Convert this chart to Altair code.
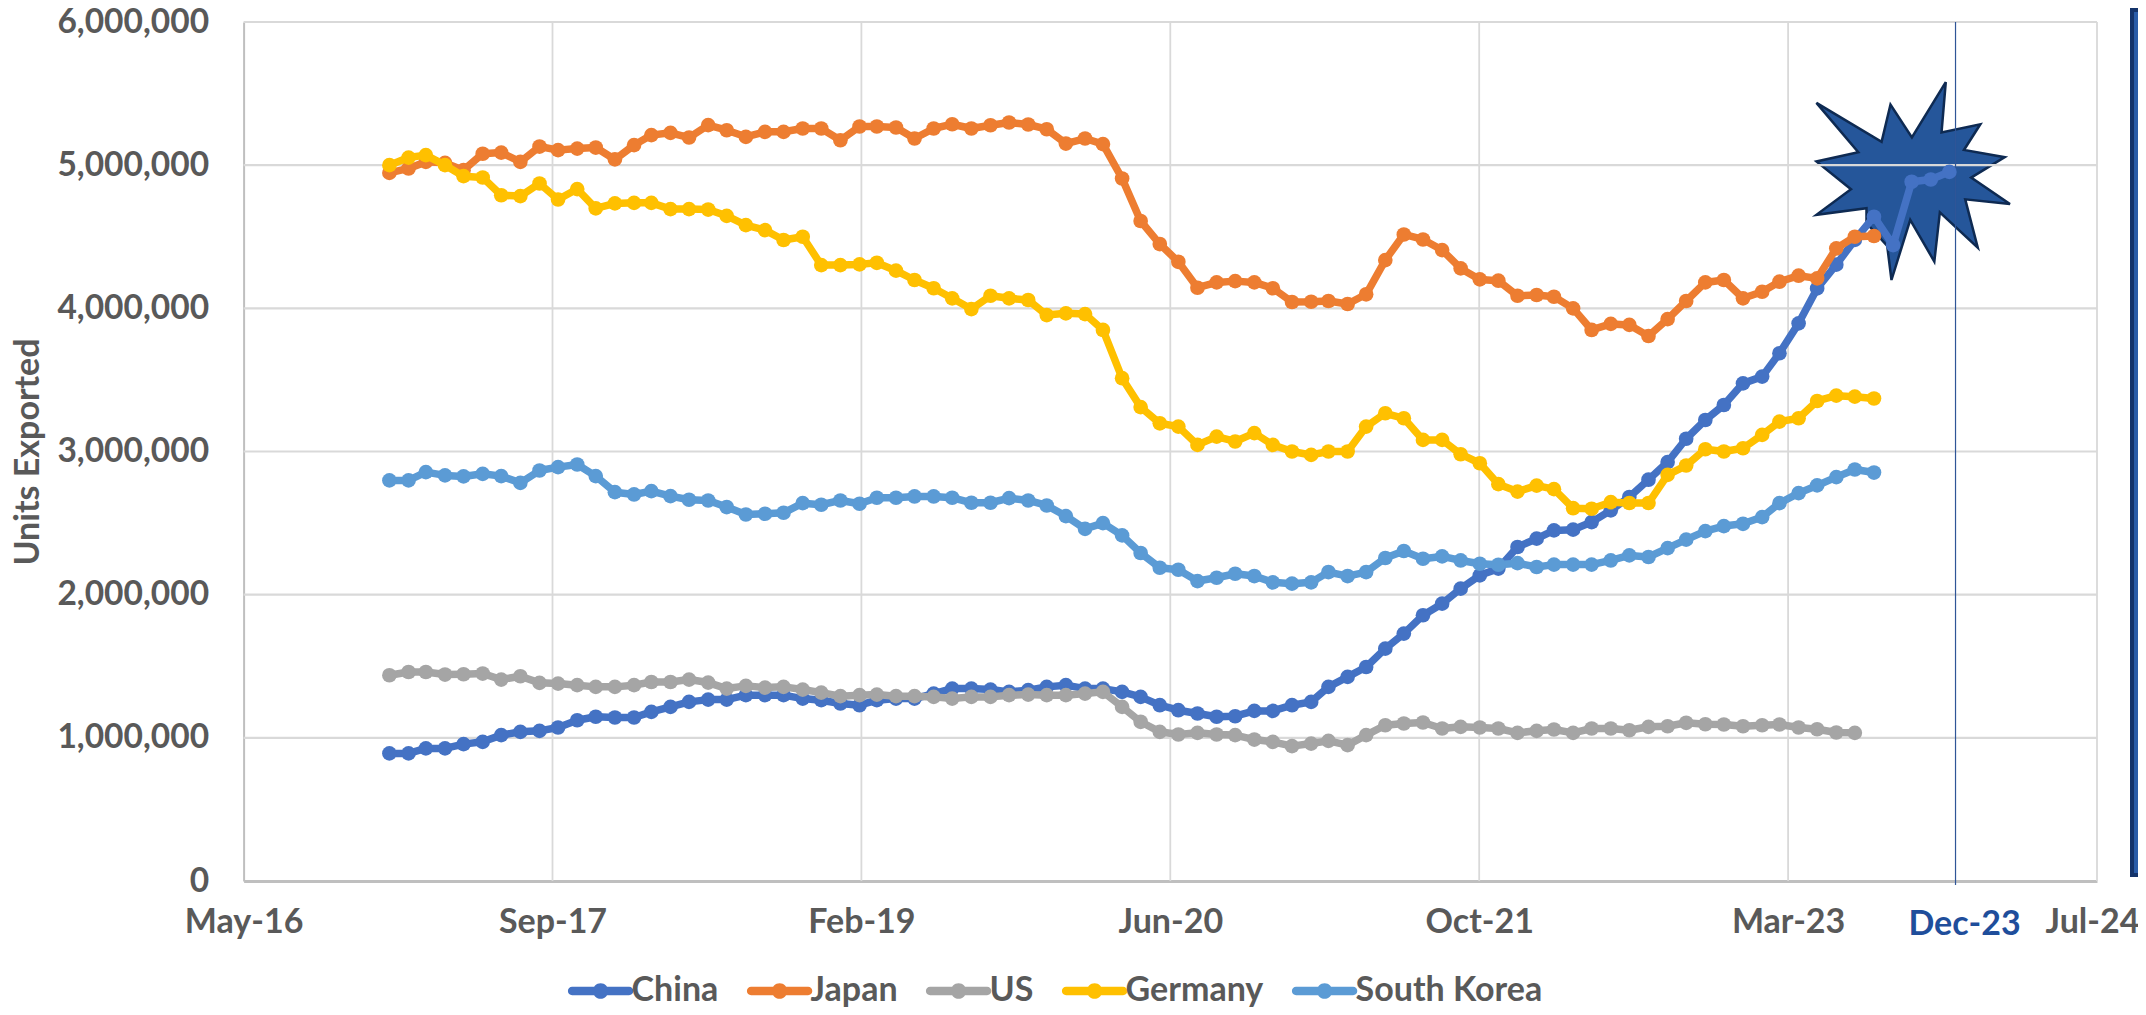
import altair as alt
import pandas as pd

china = [0.891,0.891,0.926,0.926,0.956,0.972,1.019,1.042,1.049,1.072,1.123,1.147,1.142,1.142,1.181,1.216,1.251,1.267,1.267,1.298,
         1.298,1.298,1.274,1.263,1.240,1.228,1.263,1.274,1.274,1.309,1.344,1.344,1.337,1.321,1.333,1.356,1.368,1.344,1.344,1.321,
         1.286,1.228,1.193,1.170,1.147,1.151,1.188,1.188,1.228,1.251,1.356,1.426,1.495,1.623,1.728,1.856,1.937,2.042,2.135,2.182,
         2.333,2.391,2.449,2.454,2.507,2.589,2.682,2.803,2.926,3.089,3.220,3.325,3.476,3.523,3.686,3.895,4.139,4.305,4.478,4.640,
         4.442,4.884,4.900,4.953]
japan = [4.946,4.977,5.023,5.016,4.965,5.080,5.088,5.023,5.130,5.105,5.116,5.123,5.040,5.140,5.210,5.226,5.193,5.280,5.244,5.198,
         5.233,5.233,5.256,5.256,5.174,5.270,5.270,5.263,5.186,5.256,5.286,5.256,5.279,5.298,5.284,5.251,5.151,5.186,5.147,4.907,
         4.610,4.449,4.325,4.144,4.181,4.190,4.181,4.140,4.044,4.046,4.051,4.030,4.098,4.337,4.516,4.481,4.407,4.279,4.202,4.193,
         4.088,4.093,4.081,4.000,3.849,3.891,3.884,3.807,3.925,4.051,4.181,4.198,4.070,4.116,4.186,4.228,4.209,4.419,4.500,4.505]
us = [1.437,1.460,1.460,1.442,1.444,1.449,1.407,1.430,1.384,1.379,1.368,1.356,1.356,1.368,1.390,1.390,1.407,1.386,1.344,1.363,
      1.351,1.356,1.337,1.316,1.291,1.298,1.302,1.291,1.291,1.286,1.274,1.286,1.286,1.298,1.302,1.298,1.298,1.309,1.321,1.216,
      1.112,1.042,1.023,1.035,1.023,1.019,0.988,0.972,0.942,0.960,0.979,0.949,1.019,1.088,1.100,1.107,1.065,1.077,1.072,1.065,
      1.035,1.049,1.058,1.035,1.065,1.065,1.053,1.077,1.081,1.105,1.095,1.093,1.081,1.088,1.093,1.072,1.060,1.037,1.035]
germany = [5.000,5.053,5.070,5.000,4.923,4.914,4.790,4.784,4.872,4.760,4.833,4.698,4.733,4.737,4.737,4.693,4.693,4.690,4.646,4.581,
           4.546,4.477,4.500,4.302,4.302,4.307,4.318,4.263,4.198,4.140,4.070,3.995,4.088,4.070,4.058,3.953,3.965,3.960,3.849,3.512,
           3.310,3.197,3.174,3.046,3.104,3.070,3.128,3.046,3.000,2.976,3.000,3.000,3.174,3.267,3.232,3.081,3.081,2.981,2.918,2.772,
           2.720,2.762,2.737,2.604,2.600,2.646,2.640,2.640,2.837,2.902,3.016,3.000,3.023,3.116,3.209,3.232,3.353,3.390,3.383,3.370]
south_korea = [2.798,2.798,2.856,2.833,2.826,2.844,2.828,2.781,2.867,2.891,2.909,2.828,2.716,2.700,2.723,2.688,2.663,2.658,2.612,2.560,
               2.565,2.572,2.639,2.628,2.658,2.635,2.677,2.677,2.686,2.686,2.677,2.642,2.642,2.674,2.658,2.623,2.549,2.460,2.500,2.414,
               2.291,2.188,2.174,2.095,2.118,2.146,2.130,2.086,2.077,2.086,2.158,2.130,2.158,2.256,2.305,2.251,2.267,2.239,2.216,2.209,
               2.220,2.193,2.210,2.210,2.210,2.239,2.274,2.263,2.325,2.384,2.444,2.479,2.495,2.542,2.639,2.709,2.763,2.821,2.874,2.853]

series_names = ["China", "Japan", "US", "Germany", "South Korea"]
series_values = [china, japan, us, germany, south_korea]
series_colors = ["#4472C4", "#ED7D31", "#A5A5A5", "#FFC000", "#5B9BD5"]
months = pd.date_range("2017-01-01", periods=84, freq="MS").strftime("%Y-%m-%dT00:00:00").tolist()

grid_units = [1000000, 2000000, 3000000, 4000000, 5000000, 6000000]
y_ticks = [0] + grid_units
tick_dates = [(2016, 5, 10), (2017, 9, 22), (2019, 2, 4), (2020, 6, 18), (2021, 10, 31), (2023, 3, 15), (2024, 7, 27)]
month_names = ["Jan", "Feb", "Mar", "Apr", "May", "Jun", "Jul", "Aug", "Sep", "Oct", "Nov", "Dec"]


def dt(t):
    return alt.DateTime(year=t[0], month=month_names[t[1] - 1], date=t[2])


grid_dates = ["%d-%02d-%02dT00:00:00" % t for t in tick_dates[1:]]
marker_date = "2023-12-11T00:00:00"
star_date = "2023-10-03T00:00:00"
star_units = 4889000

FONT = "Lato"
GREY = "#595959"
W, H = 1853.4, 859

x_scale = alt.Scale(type="time", domain=[dt(tick_dates[0]), dt(tick_dates[-1])], nice=False)
y_scale = alt.Scale(domain=[0, 6000000], nice=False)
x_axis = alt.Axis(
    values=[dt(t) for t in tick_dates], format="%b-%y", grid=False, ticks=False,
    labelFont=FONT, labelFontSize=34, labelFontWeight="bold", labelColor=GREY,
    labelPadding=24, labelOverlap=False, labelFlush=False, labelBound=False,
    labelOffset=alt.expr("datum.label == 'Jul-24' ? -5 : 0"),
    domain=True, domainColor="#BFBFBF", domainWidth=3, title=None,
)
y_axis = alt.Axis(
    values=y_ticks, format=",d", grid=False, ticks=False,
    labelFont=FONT, labelFontSize=33.5, labelFontWeight="bold", labelColor=GREY,
    labelPadding=35, domain=True, domainColor="#BFBFBF", domainWidth=2,
    title="Units Exported", titleFont=FONT, titleFontSize=34, titleFontWeight="bold",
    titleColor=GREY, titleX=-215, titleY=H / 2, titleAngle=270, titleAlign="center",
    titleBaseline="middle",
)

STAR = ("M.333,-1.002L.29,-.492L.683,-.575L.517,-.315L.93,-.242L.59,-.035L.983,.232L.53,.185L.657,.675"
        "L.273,.318L.217,.815L-.027,.392L-.217,1.002L-.26,.658L-.47,.425L-.47,.275L-.977,.342L-.627,.082"
        "L-.977,-.198L-.553,-.292L-.977,-.792L-.317,-.398L-.227,-.775L-.01,-.442Z")
LEGEND_SYMBOL = ("M-.95,-.14L.95,-.14A.14,.14 0 0 1 .95,.14L-.95,.14A.14,.14 0 0 1 -.95,-.14Z"
                 "M-.26,0A.26,.26 0 1 1 .26,0A.26,.26 0 1 1 -.26,0Z")

star = alt.Chart(pd.DataFrame({"d": [star_date], "v": [star_units]})).mark_point(
    shape=STAR, filled=True, size=39000, fill="#25569A", stroke="#0E2A52", strokeWidth=2.5, opacity=1,
).encode(x=alt.X("d:T", scale=x_scale, axis=x_axis), y=alt.Y("v:Q", scale=y_scale, axis=y_axis))

h_grid = alt.Chart(pd.DataFrame({"v": grid_units})).mark_rule(color="#D9D9D9", strokeWidth=2.2).encode(
    y=alt.Y("v:Q", scale=y_scale, axis=y_axis))
v_grid = alt.Chart(pd.DataFrame({"d": grid_dates})).mark_rule(color="#D9D9D9", strokeWidth=1.8).encode(
    x=alt.X("d:T", scale=x_scale, axis=x_axis))
marker_rule = alt.Chart(pd.DataFrame({"d": [marker_date]})).mark_rule(color="#2F5597", strokeWidth=1.2).encode(
    x=alt.X("d:T", scale=x_scale, axis=x_axis), y=alt.value(0), y2=alt.value(H + 4))
marker_label = alt.Chart(pd.DataFrame({"d": [marker_date], "t": ["Dec-23"]})).mark_text(
    font=FONT, fontSize=34, fontWeight="bold", color="#1F4E9B", baseline="middle", dx=9,
).encode(x=alt.X("d:T", scale=x_scale, axis=x_axis), y=alt.value(H + 24 + 20), text="t:N")
side_bar = alt.Chart(pd.DataFrame({"a": [0]})).mark_rect(fill="#2A5CA8", stroke="#14336A", strokeWidth=4).encode(
    x=alt.value(2132 - 243.6), x2=alt.value(2150 - 243.6), y=alt.value(10 - 22), y2=alt.value(875 - 22))

color_scale = alt.Scale(domain=series_names, range=series_colors)
layers = [side_bar, star, h_grid, v_grid, marker_rule, marker_label]
for name, values, colour in zip(series_names, series_values, series_colors):
    df = pd.DataFrame({"date": months[: len(values)], "units": [round(v * 1e6) for v in values], "Series": name})
    enc = dict(
        x=alt.X("date:T", scale=x_scale, axis=x_axis),
        y=alt.Y("units:Q", scale=y_scale, axis=y_axis),
    )
    line = alt.Chart(df).mark_line(strokeWidth=7.5, strokeJoin="round", color=colour).encode(**enc)
    pts = alt.Chart(df).mark_point(filled=True, size=215, opacity=1).encode(
        color=alt.Color("Series:N", scale=color_scale, legend=alt.Legend(
            orient="none", legendX=327, legendY=939, direction="horizontal", columns=5, title=None,
            symbolType=LEGEND_SYMBOL, symbolSize=3600, symbolStrokeWidth=0, symbolOpacity=1,
            labelFont=FONT, labelFontSize=34, labelFontWeight="bold", labelColor=GREY, labelLimit=400,
            labelOffset=1, columnPadding=28, padding=0,
        )), **enc)
    layers += [line, pts]

chart = alt.layer(*layers).resolve_scale(color="shared").properties(
    width=W, height=H,
    autosize=alt.AutoSizeParams(type="none"),
    padding={"left": 235.6, "top": 14, "right": 41, "bottom": 126},
).configure_view(stroke=None)

chart.save("out.html", embed_options={"renderer": "svg", "actions": False})
